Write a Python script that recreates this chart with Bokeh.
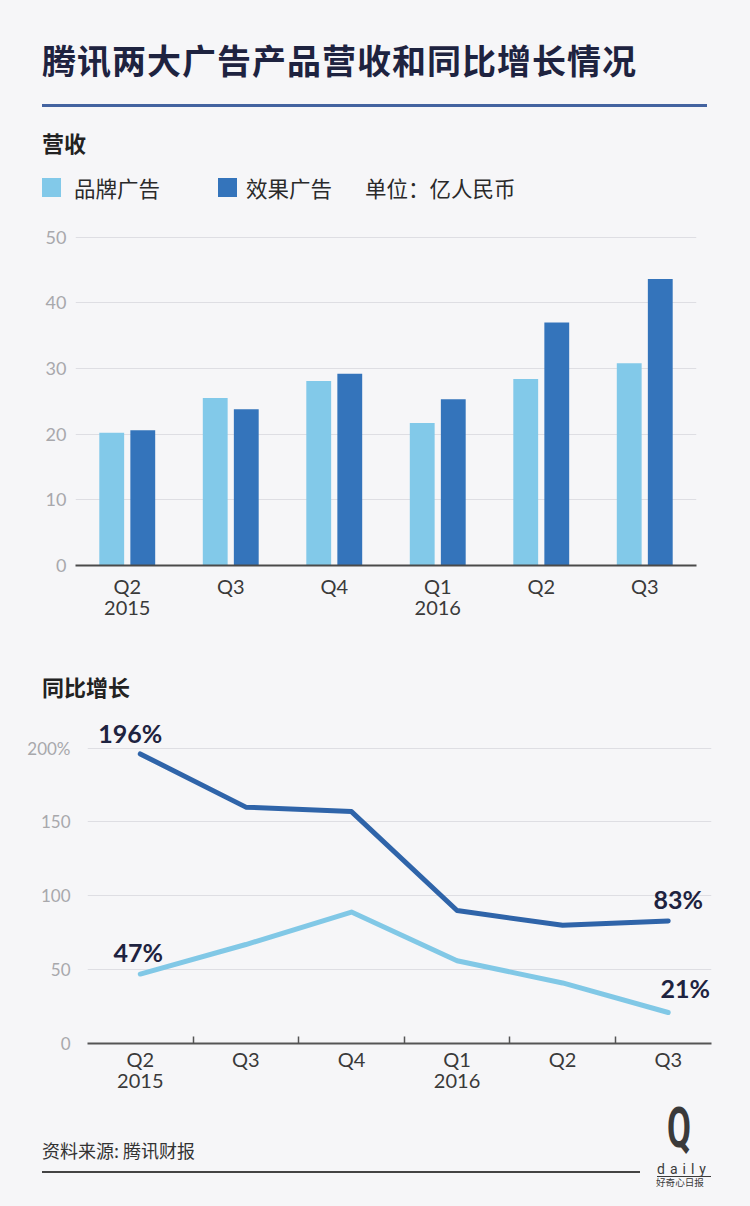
from bokeh.plotting import figure
from bokeh.models import Range1d, FixedTicker, Div, ColumnDataSource, Label
from bokeh.layouts import column, row
from bokeh.transform import dodge
from bokeh.embed import file_html
from bokeh.resources import INLINE

# ---------------- data ----------------
quarters = ["Q2\n2015", "Q3", "Q4", "Q1\n2016", "Q2", "Q3"]
brand_rev = [20.2, 25.5, 28.1, 21.7, 28.4, 30.8]     # 品牌广告 营收 (亿人民币)
perf_rev = [20.6, 23.8, 29.2, 25.3, 37.0, 43.6]      # 效果广告 营收 (亿人民币)
brand_yoy = [47, 67, 89, 56, 41, 21]                 # 品牌广告 同比增长 %
perf_yoy = [196, 160, 157, 90, 80, 83]               # 效果广告 同比增长 %
rev_ticks = [0, 10, 20, 30, 40, 50]
yoy_ticks = [0, 50, 100, 150, 200]
yoy_tick_labels = {0: "0", 50: "50", 100: "100", 150: "150", 200: "200%"}

BG = "#f6f6f8"
LIGHT = "#82c9e9"
DARK = "#3474bb"
LINE_DARK = "#2f64a9"
LINE_LIGHT = "#81c8e6"
NAVY = "#1e2340"
GRID = "#dedee3"
CJK = "'Noto Sans CJK SC', 'Noto Sans', sans-serif"
NUMF = "Lato"
W = 750

xs = list(range(len(quarters)))

# ---------------- header ----------------
header = Div(width=W, height=220, margin=0, text=f"""
<div style="position:relative;width:{W}px;height:220px;background:{BG};font-family:{CJK};">
  <div style="position:absolute;left:42px;top:43px;font-size:34px;letter-spacing:1px;line-height:1;font-weight:bold;color:{NAVY};white-space:nowrap;">腾讯两大广告产品营收和同比增长情况</div>
  <div style="position:absolute;left:42px;top:104px;width:665px;height:3px;background:#4363a0;"></div>
  <div style="position:absolute;left:42px;top:131px;font-size:22px;line-height:1;font-weight:bold;color:#222;white-space:nowrap;">营收</div>
  <div style="position:absolute;left:42px;top:178px;width:19px;height:19px;background:{LIGHT};"></div>
  <div style="position:absolute;left:74px;top:177px;font-size:21.5px;line-height:1;color:#2a2a2a;white-space:nowrap;">品牌广告</div>
  <div style="position:absolute;left:218px;top:178px;width:19px;height:19px;background:{DARK};"></div>
  <div style="position:absolute;left:246px;top:177px;font-size:21.5px;line-height:1;color:#2a2a2a;white-space:nowrap;">效果广告</div>
  <div style="position:absolute;left:365px;top:177px;font-size:21.5px;line-height:1;color:#2a2a2a;white-space:nowrap;">单位：亿人民币</div>
</div>""")

# ---------------- bar chart ----------------
src1 = ColumnDataSource(dict(x=xs, brand=brand_rev, perf=perf_rev))
p1 = figure(frame_width=621, frame_height=335, min_border_left=75, min_border_right=54,
            min_border_top=10, min_border_bottom=83,
            x_range=Range1d(-0.5, 5.5), y_range=Range1d(0, 51),
            output_backend="svg", toolbar_location=None,
            background_fill_color=BG, border_fill_color=BG, outline_line_color=None)
p1.vbar(x=dodge("x", -0.15), top="brand", width=0.24, source=src1,
        fill_color=LIGHT, line_color=None)
p1.vbar(x=dodge("x", 0.15), top="perf", width=0.24, source=src1,
        fill_color=DARK, line_color=None)

p1.xaxis.ticker = FixedTicker(ticks=xs)
p1.xaxis.major_label_overrides = {i: q for i, q in enumerate(quarters)}
p1.xaxis.major_tick_line_color = None
p1.xaxis.major_tick_out = 0
p1.xaxis.major_tick_in = 0
p1.xaxis.minor_tick_line_color = None
p1.xaxis.axis_line_color = "#4a4a4a"
p1.xaxis.axis_line_width = 2
p1.xaxis.major_label_text_font = NUMF
p1.xaxis.major_label_text_font_size = "20px"
p1.xaxis.major_label_text_line_height = 0.875
p1.xaxis.major_label_text_color = "#3a3a3a"
p1.xaxis.major_label_standoff = 8

p1.yaxis.ticker = FixedTicker(ticks=rev_ticks)
p1.yaxis.axis_line_color = None
p1.yaxis.major_tick_line_color = None
p1.yaxis.major_tick_out = 0
p1.yaxis.major_tick_in = 0
p1.yaxis.minor_tick_line_color = None
p1.yaxis.major_label_text_font = NUMF
p1.yaxis.major_label_text_font_size = "18px"
p1.yaxis.major_label_text_color = "#a8a8ac"
p1.yaxis.major_label_standoff = 9

p1.xgrid.grid_line_color = None
p1.ygrid.ticker = FixedTicker(ticks=rev_ticks)
p1.ygrid.grid_line_color = GRID
p1.ygrid.grid_line_width = 1

# ---------------- sub title ----------------
sub = Div(width=W, height=60, margin=0, text=f"""
<div style="position:relative;width:{W}px;height:60px;background:{BG};font-family:{CJK};">
  <div style="position:absolute;left:42px;top:27px;font-size:22px;line-height:1;font-weight:bold;color:#222;white-space:nowrap;">同比增长</div>
</div>""")

# ---------------- line chart ----------------
src2 = ColumnDataSource(dict(x=xs, brand=brand_yoy, perf=perf_yoy))
p2 = figure(frame_width=624, frame_height=325, min_border_left=87, min_border_right=39,
            min_border_top=10, min_border_bottom=57,
            x_range=Range1d(-0.5, 5.41), y_range=Range1d(0, 220),
            output_backend="svg", toolbar_location=None,
            background_fill_color=BG, border_fill_color=BG, outline_line_color=None)
p2.line("x", "perf", source=src2, line_color=LINE_DARK, line_width=5,
        line_join="round", line_cap="round")
p2.line("x", "brand", source=src2, line_color=LINE_LIGHT, line_width=5,
        line_join="round", line_cap="round")

p2.xaxis.ticker = FixedTicker(ticks=xs, minor_ticks=[i + 0.5 for i in xs[:-1]])
p2.xaxis.major_label_overrides = {i: q for i, q in enumerate(quarters)}
p2.xaxis.major_tick_line_color = None
p2.xaxis.major_tick_out = 0
p2.xaxis.major_tick_in = 0
p2.xaxis.minor_tick_in = 7
p2.xaxis.minor_tick_out = 0
p2.xaxis.minor_tick_line_color = "#555555"
p2.xaxis.minor_tick_line_width = 1.5
p2.xaxis.axis_line_color = "#555555"
p2.xaxis.axis_line_width = 2
p2.xaxis.major_label_text_font = NUMF
p2.xaxis.major_label_text_font_size = "20px"
p2.xaxis.major_label_text_line_height = 0.875
p2.xaxis.major_label_text_color = "#3a3a3a"
p2.xaxis.major_label_standoff = 3

p2.yaxis.ticker = FixedTicker(ticks=yoy_ticks)
p2.yaxis.major_label_overrides = yoy_tick_labels
p2.yaxis.axis_line_color = None
p2.yaxis.major_tick_line_color = None
p2.yaxis.major_tick_out = 0
p2.yaxis.major_tick_in = 0
p2.yaxis.minor_tick_line_color = None
p2.yaxis.major_label_text_font = NUMF
p2.yaxis.major_label_text_font_size = "17px"
p2.yaxis.major_label_text_color = "#a8a8ac"
p2.yaxis.major_label_standoff = 17

p2.xgrid.grid_line_color = None
p2.ygrid.ticker = FixedTicker(ticks=yoy_ticks)
p2.ygrid.grid_line_color = GRID
p2.ygrid.grid_line_width = 1

last = len(xs) - 1
label_specs = [
    (0, perf_yoy[0], -10, 21),
    (0, brand_yoy[0], -2, 22),
    (last, perf_yoy[last], 10, 22),
    (last, brand_yoy[last], 17, 24),
]
for xi, val, dx, dy in label_specs:
    p2.add_layout(Label(x=xi, y=val, text=f"{val}%", x_offset=dx, y_offset=dy,
                        text_align="center", text_baseline="middle",
                        text_font=NUMF, text_font_style="bold",
                        text_font_size="25px", text_color=NAVY))

# ---------------- footer ----------------
footer = Div(width=W, height=106, margin=0, text=f"""
<div style="position:relative;width:{W}px;height:106px;background:{BG};font-family:{CJK};">
  <div style="position:absolute;left:42px;top:41px;font-size:18px;line-height:1;color:#333;white-space:nowrap;">资料来源: 腾讯财报</div>
  <div style="position:absolute;left:42px;top:71px;width:598px;height:2px;background:#444;"></div>
  <div style="position:absolute;left:667px;top:6px;font-family:Roboto;font-weight:bold;font-size:56px;line-height:0.8;color:#3a3a3a;transform:scale(0.62,1);transform-origin:left top;">Q</div>
  <div style="position:absolute;left:657px;top:62px;font-family:Roboto;font-size:14px;line-height:1;letter-spacing:5px;color:#3a3a3a;border-bottom:1px solid #3a3a3a;white-space:nowrap;">daily</div>
  <div style="position:absolute;left:656px;top:78px;font-size:9.6px;line-height:1;color:#3a3a3a;white-space:nowrap;">好奇心日报</div>
</div>""")

layout = column(header, row(p1, margin=0), sub, row(p2, margin=0), footer,
                spacing=0, margin=0, styles={"background-color": BG})

tmpl = """{% block preamble %}<style>html, body { background: #f6f6f8; }</style>{% endblock %}"""
try:
    html = file_html(layout, INLINE, "腾讯两大广告产品营收和同比增长情况", template=tmpl)
except Exception:
    html = file_html(layout, INLINE, "腾讯两大广告产品营收和同比增长情况")
open("out.html", "w").write(html)
